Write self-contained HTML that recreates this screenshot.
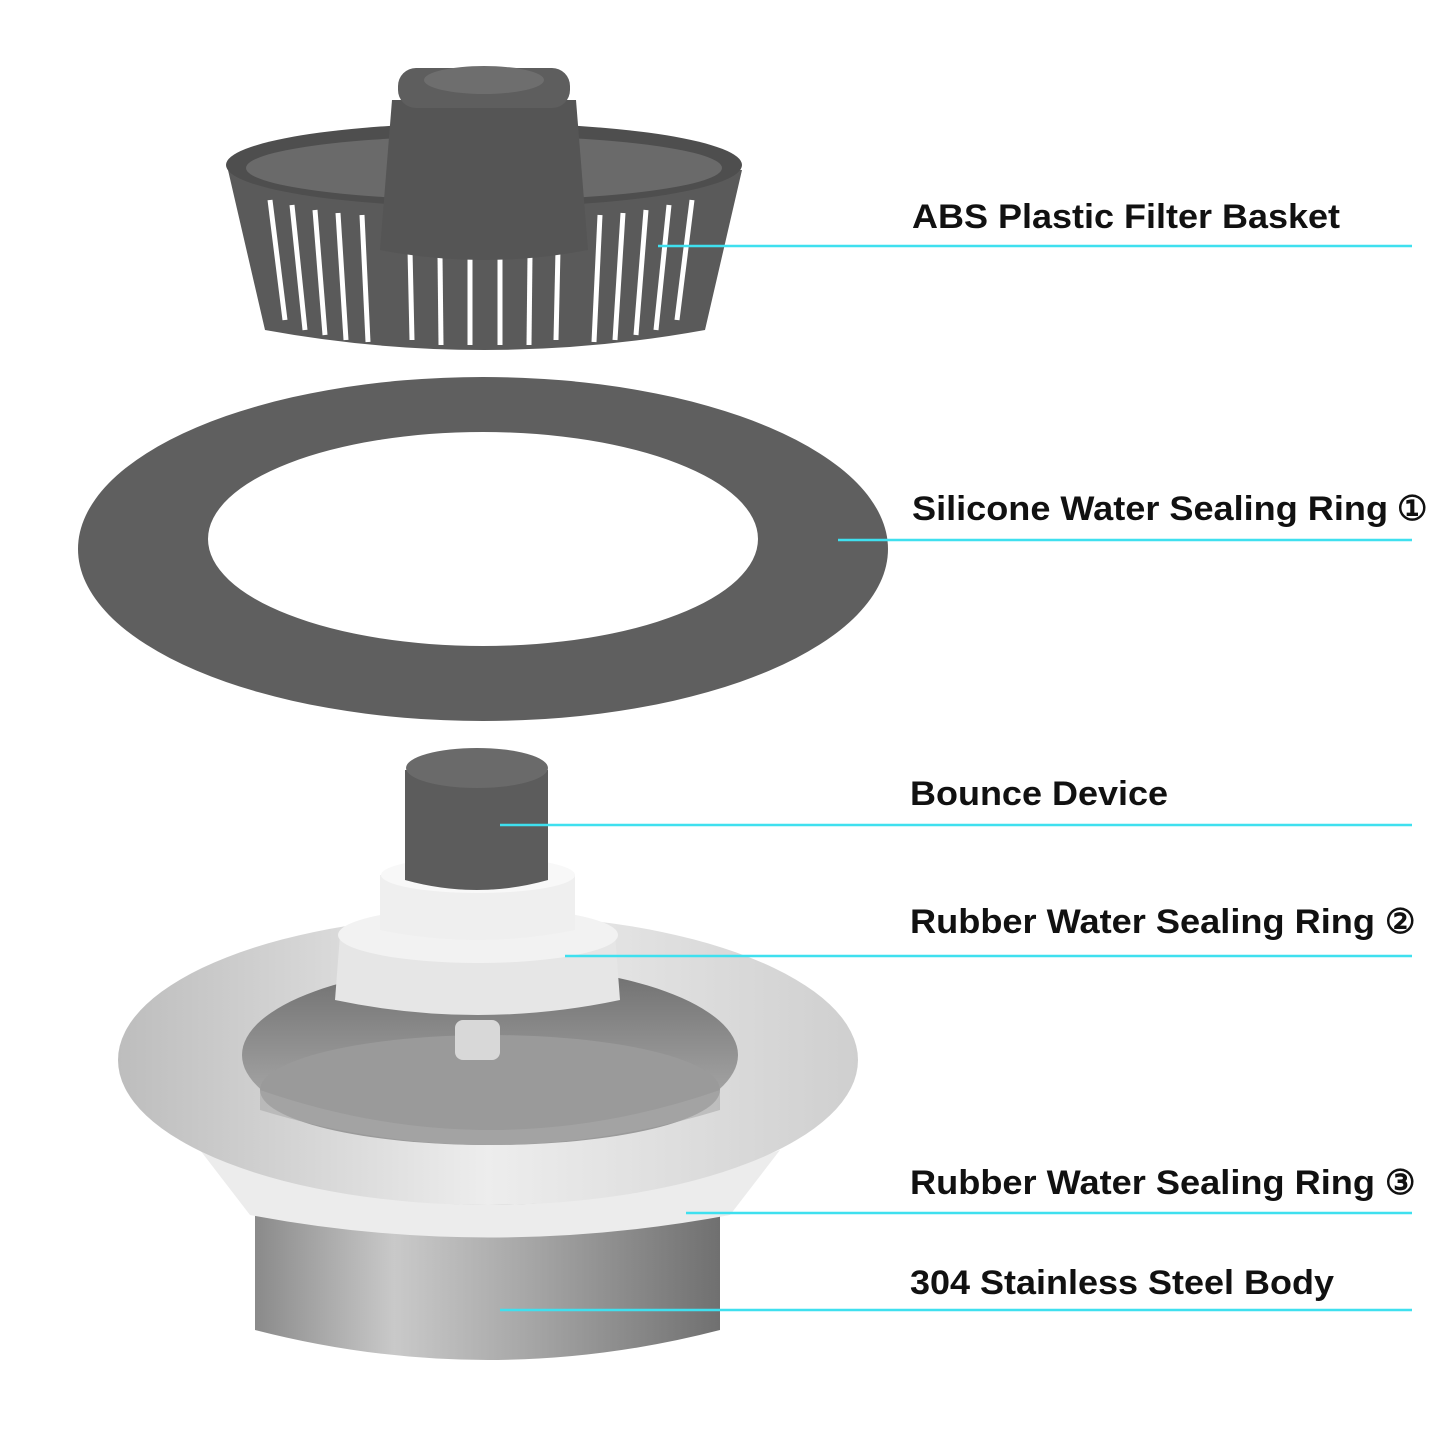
<!DOCTYPE html>
<html><head><meta charset="utf-8"><style>
html,body{margin:0;padding:0;background:#fff;}
svg{display:block}
text{font-family:"Liberation Sans",Arial,sans-serif;font-weight:bold;fill:#111;}
</style></head><body>
<svg width="1445" height="1445" viewBox="0 0 1445 1445" xmlns="http://www.w3.org/2000/svg">
<defs>
<linearGradient id="steel" x1="0" x2="1" y1="0" y2="0">
<stop offset="0" stop-color="#8a8a8a"/><stop offset="0.3" stop-color="#c9c9c9"/><stop offset="0.6" stop-color="#a5a5a5"/><stop offset="1" stop-color="#707070"/></linearGradient>
<linearGradient id="flange" x1="0" x2="1" y1="0" y2="0">
<stop offset="0" stop-color="#bdbdbd"/><stop offset="0.5" stop-color="#ededed"/><stop offset="1" stop-color="#cfcfcf"/></linearGradient>
<linearGradient id="bowl" x1="0" x2="0" y1="0" y2="1">
<stop offset="0" stop-color="#6e6e6e"/><stop offset="1" stop-color="#b8b8b8"/></linearGradient>
</defs>

<!-- Basket -->
<path d="M228 170 L265 330 Q484 370 705 330 L742 170 Z" fill="#5a5a5a"/>
<g stroke="#fff" stroke-width="5">
<line x1="270" y1="200" x2="285" y2="320"/><line x1="292" y1="205" x2="305" y2="330"/>
<line x1="315" y1="210" x2="325" y2="335"/><line x1="338" y1="213" x2="346" y2="340"/>
<line x1="362" y1="215" x2="368" y2="342"/><line x1="600" y1="215" x2="594" y2="342"/>
<line x1="623" y1="213" x2="615" y2="340"/><line x1="646" y1="210" x2="636" y2="335"/>
<line x1="669" y1="205" x2="656" y2="330"/><line x1="692" y1="200" x2="677" y2="320"/>
<line x1="410" y1="250" x2="412" y2="340"/><line x1="440" y1="255" x2="441" y2="345"/>
<line x1="470" y1="255" x2="470" y2="345"/><line x1="500" y1="255" x2="500" y2="345"/>
<line x1="530" y1="255" x2="529" y2="345"/><line x1="558" y1="250" x2="556" y2="340"/>
</g>
<ellipse cx="484" cy="165" rx="258" ry="42" fill="#4e4e4e"/>
<ellipse cx="484" cy="168" rx="238" ry="32" fill="#6a6a6a"/>
<path d="M392 100 L380 250 Q484 270 588 250 L576 100 Z" fill="#555"/>
<rect x="398" y="68" width="172" height="40" rx="18" fill="#5e5e5e"/>
<ellipse cx="484" cy="80" rx="60" ry="14" fill="#6e6e6e"/>

<!-- Silicone ring -->
<path fill-rule="evenodd" fill="#5f5f5f" d="M78 549 a405 172 0 1 0 810 0 a405 172 0 1 0 -810 0 Z M208 539 a275 107 0 1 0 550 0 a275 107 0 1 0 -550 0 Z"/>

<!-- Steel body -->
<path d="M255 1195 L255 1330 Q488 1390 720 1330 L720 1195 Z" fill="url(#steel)"/>
<path d="M200 1150 Q488 1260 780 1150 L730 1215 Q488 1260 250 1215 Z" fill="#ececec"/>
<ellipse cx="488" cy="1060" rx="370" ry="145" fill="url(#flange)"/>
<ellipse cx="490" cy="1055" rx="248" ry="90" fill="url(#bowl)"/>
<ellipse cx="490" cy="1090" rx="230" ry="55" fill="#9a9a9a"/>
<path d="M260 1090 Q490 1170 720 1090 L720 1110 Q490 1180 260 1110 Z" fill="#aaa" opacity="0.6"/>

<!-- Bounce device and rubber -->
<path d="M340 935 L335 1000 Q478 1030 620 1000 L615 935 Z" fill="#e6e6e6"/>
<ellipse cx="478" cy="935" rx="140" ry="28" fill="#f2f2f2"/>
<path d="M380 875 L380 930 Q478 950 575 930 L575 875 Z" fill="#efefef"/>
<ellipse cx="478" cy="875" rx="97" ry="18" fill="#f8f8f8"/>
<rect x="455" y="1020" width="45" height="40" rx="8" fill="#d8d8d8"/>
<path d="M405 770 L405 880 Q477 900 548 880 L548 770 Z" fill="#5c5c5c"/>
<ellipse cx="477" cy="768" rx="71" ry="20" fill="#6a6a6a"/>

<!-- Lines -->
<g stroke="#3fe0ef" stroke-width="2.5">
<line x1="658" y1="246" x2="1412" y2="246"/>
<line x1="838" y1="540" x2="1412" y2="540"/>
<line x1="500" y1="825" x2="1412" y2="825"/>
<line x1="565" y1="956" x2="1412" y2="956"/>
<line x1="686" y1="1213" x2="1412" y2="1213"/>
<line x1="500" y1="1310" x2="1412" y2="1310"/>
</g>

<!-- Labels -->
<g font-size="34">
<text x="912" y="228" textLength="428" lengthAdjust="spacingAndGlyphs">ABS Plastic Filter Basket</text>
<text x="912" y="520" textLength="476" lengthAdjust="spacingAndGlyphs">Silicone Water Sealing Ring</text>
<text x="1397" y="520" font-weight="normal">①</text>
<text x="910" y="805" textLength="258" lengthAdjust="spacingAndGlyphs">Bounce Device</text>
<text x="910" y="933" textLength="465" lengthAdjust="spacingAndGlyphs">Rubber Water Sealing Ring</text>
<text x="1385" y="933" font-weight="normal">②</text>
<text x="910" y="1194" textLength="465" lengthAdjust="spacingAndGlyphs">Rubber Water Sealing Ring</text>
<text x="1385" y="1194" font-weight="normal">③</text>
<text x="910" y="1294" textLength="424" lengthAdjust="spacingAndGlyphs">304 Stainless Steel Body</text>
</g>
</svg>
</body></html>
